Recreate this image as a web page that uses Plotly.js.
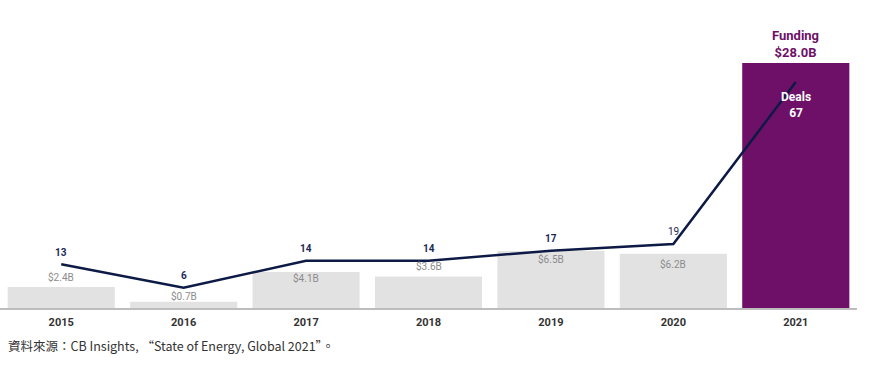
<!DOCTYPE html>
<html>
<head>
<meta charset="utf-8">
<script src="https://cdn.plot.ly/plotly-3.0.1.min.js"></script>
<style>html,body{margin:0;padding:0;background:#fff;}#chart{width:869px;height:366px;}</style>
</head>
<body>
<div id="chart"></div>
<script>
const years = ["2015","2016","2017","2018","2019","2020","2021"];
const funding = [2.4, 0.7, 4.1, 3.6, 6.5, 6.2, 28.0];
const deals = [13, 6, 14, 14, 17, 19, 67];
const fundingLabels = ["$2.4B","$0.7B","$4.1B","$3.6B","$6.5B","$6.2B","$28.0B"];
const sourceText = "資料來源：CB Insights, “State of Energy, Global 2021”。";

// styling (not data)
const barColors = years.map((y,i)=> i===years.length-1 ? "#6e1068" : "#e2e2e2");
const labelShift = [10, 6, -6, 10, -8, -10];
const FONT = "Roboto, 'Noto Sans', sans-serif";

const annotations = [];
for (let i = 0; i < years.length - 1; i++) {
  annotations.push({x: i, y: funding[i], xref:"x", yref:"y", text: fundingLabels[i],
    showarrow:false, yshift: labelShift[i], yanchor:"middle",
    font:{family:FONT, size:10, color:"#8c8c8c"}});
  annotations.push({x: i, y: deals[i], xref:"x", yref:"y2", text: String(deals[i]),
    showarrow:false, yshift: 12, yanchor:"middle",
    font:{family:FONT, size:10, color:"#1c2a55", weight: i===5 ? 400 : 700}});
}
const last = years.length - 1;
annotations.push({x: last, y: funding[last], xref:"x", yref:"y",
  text: "Funding<br>" + fundingLabels[last], showarrow:false, yanchor:"bottom", yshift: 1,
  font:{family:FONT, size:13, color:"#6e1068", weight:700}});
annotations.push({x: last, y: deals[last], xref:"x", yref:"y2",
  text: "Deals<br>" + deals[last], showarrow:false, yanchor:"top", yshift: -6,
  font:{family:FONT, size:12, color:"#ffffff", weight:700}});
annotations.push({x: 0, y: 0, xref:"paper", yref:"paper", text: sourceText, showarrow:false,
  xanchor:"left", yanchor:"middle", xshift: 6, yshift: -37,
  font:{family:"'Noto Sans CJK TC', 'Noto Sans', sans-serif", size:12.5, color:"#333333"}});

const traces = [
  {type:"bar", x: years, y: funding, marker:{color: barColors}, hoverinfo:"skip", yaxis:"y"},
  {type:"scatter", mode:"lines", x: years, y: deals, yaxis:"y2",
    line:{color:"#0d1a45", width:2.5}, hoverinfo:"skip"}
];

const layout = {
  width: 869, height: 366,
  margin: {l:0, r:12, t:20, b:58},
  paper_bgcolor:"#ffffff", plot_bgcolor:"#ffffff",
  showlegend:false,
  bargap: 0.125,
  xaxis: {type:"category", range:[-0.5, 6.5], showgrid:false, zeroline:false,
    showline:true, linecolor:"#bdbdbd", linewidth:2,
    ticks:"outside", ticklen:3, tickcolor:"rgba(0,0,0,0)",
    tickfont:{family:FONT, size:11, color:"#333333", weight:700}, fixedrange:true},
  yaxis: {range:[0, 32.9], visible:false, fixedrange:true},
  yaxis2: {range:[0, 85.4], visible:false, overlaying:"y", side:"right", fixedrange:true},
  annotations: annotations
};

Plotly.newPlot("chart", traces, layout, {displayModeBar:false, staticPlot:true});
</script>
</body>
</html>
